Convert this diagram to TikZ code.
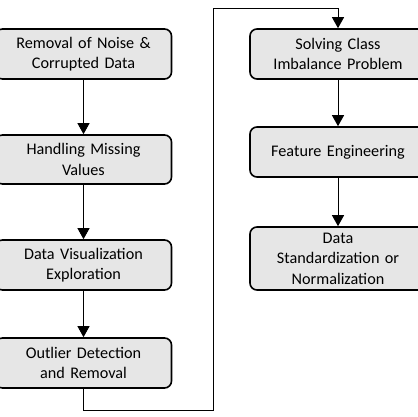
\documentclass[tikz,border=0pt]{standalone}
\usepackage{fontspec}
\setmainfont{Carlito}
\usetikzlibrary{arrows.meta}
\definecolor{boxfill}{HTML}{E6E6E6}
\tikzset{
  stepbox/.style={draw=black, line width=1.6pt, fill=boxfill, rounded corners=7pt,
    minimum width=176pt, text width=172pt, align=center, inner sep=0pt,
    font=\fontsize{16.2}{20.5}\selectfont},
  conn/.style={draw=black, line width=0.9pt, -{Triangle[length=11pt,width=12pt]}},
  plain/.style={draw=black, line width=0.9pt}
}
\begin{document}
\begin{tikzpicture}[x=1pt,y=1pt]
\useasboundingbox (0,0) rectangle (417,417);
% left column (y measured from top: y_tikz = 417 - y)
\node[stepbox, minimum height=50pt] (b1) at (83.5,{417-54}) {Removal of Noise \&\\Corrupted Data};
\node[stepbox, minimum height=49pt] (b2) at (83.5,{417-159.5}) {Handling Missing\\Values};
\node[stepbox, minimum height=50pt] (b3) at (83.5,{417-265}) {Data Visualization\\Exploration};
\node[stepbox, minimum height=50pt] (b4) at (83.5,{417-363}) {Outlier Detection\\and Removal};
% right column
\node[stepbox, minimum height=50pt] (b5) at (338,{417-54}) {Solving Class\\Imbalance Problem};
\node[stepbox, minimum height=50pt] (b6) at (338,{417-152}) {Feature Engineering};
\node[stepbox, minimum height=63pt] (b7) at (338,{417-258.5}) {Data\\Standardization or\\Normalization};
\coordinate (c1) at (83.5,{417-410});
\coordinate (c2) at (213,{417-410});
\coordinate (c3) at (213,{417-8});
\coordinate (c4) at (338,{417-8});
\draw[conn] (b1) -- (b2);
\draw[conn] (b2) -- (b3);
\draw[conn] (b3) -- (b4);
\draw[conn] (b4.south) -- (c1) -- (c2) -- (c3) -- (c4) -- (b5.north);
\draw[conn] (b5) -- (b6);
\draw[conn] (b6) -- (b7);
\end{tikzpicture}
\end{document}
